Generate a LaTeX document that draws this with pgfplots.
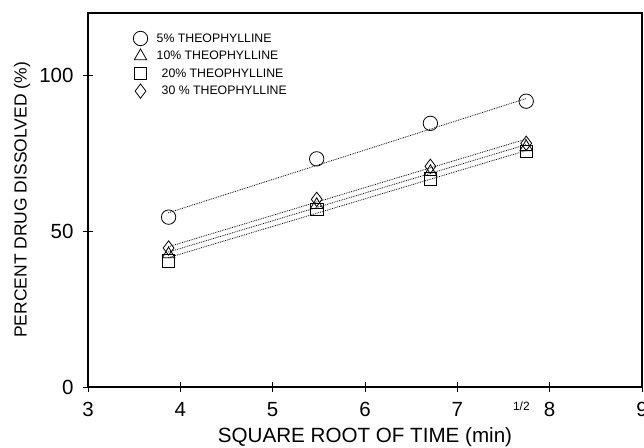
\documentclass[border=0pt]{standalone}
\usepackage{pgfplots}
\pgfplotsset{compat=1.18}
\usepackage{fontspec}
\setmainfont{Liberation Sans}
\begin{document}
\begin{tikzpicture}[x=1pt,y=1pt]
\useasboundingbox (-88pt,-60pt) rectangle (556pt,387pt);
\begin{axis}[
  scale only axis,
  width=554pt, height=374pt,
  xmin=3, xmax=9, ymin=0, ymax=120,
  xtick={3,4,5,6,7,8,9},
  ytick={0,50,100},
  tick pos=left,
  tick align=center,
  major tick length=10pt,
  axis line style={line width=1.1pt},
  every tick/.style={black, line width=0.9pt},
  /pgf/number format/assume math mode=true,
  tick label style={font=\fontsize{20.5}{22}\selectfont},
  xticklabel style={yshift=-7pt},
  yticklabel style={xshift=-6pt},
  xlabel={SQUARE ROOT OF TIME (min)\rlap{\hspace{1pt}\raisebox{32pt}{\fontsize{12}{14}\selectfont 1/2}}},
  ylabel={PERCENT DRUG DISSOLVED (\%)},
  every axis x label/.style={at={(rel axis cs:0.5,0)}, anchor=base, yshift=-55pt,
    font=\fontsize{20.6}{23}\selectfont},
  every axis y label/.style={at={(rel axis cs:0,0.5)}, anchor=center, rotate=90, yshift=66pt,
    font=\fontsize{17.5}{19}\selectfont},
  legend style={at={(0.076,0.957)}, anchor=north west, draw=none, fill=none,
    font=\fontsize{12.3}{14}\selectfont, row sep=3.3pt},
  legend cell align=left,
  clip=false,
]
% regression lines (dotted)
\addplot[densely dotted, line width=0.8pt, forget plot] coordinates {(3.87,55.9) (7.75,92.6)};
\addplot[densely dotted, line width=0.8pt, forget plot] coordinates {(3.87,45.0) (7.75,79.6)};
\addplot[densely dotted, line width=0.8pt, forget plot] coordinates {(3.87,43.3) (7.75,77.8)};
\addplot[densely dotted, line width=0.8pt, forget plot] coordinates {(3.87,41.5) (7.75,75.9)};
% data
\addplot[only marks, mark=o, mark size=7.2pt, mark options={line width=0.8pt, fill=white}]
  coordinates {(3.873,54.5) (5.477,73.2) (6.708,84.6) (7.746,91.7)};
\addlegendentry{\hspace{7pt}5\% THEOPHYLLINE}
\addplot[only marks, mark=triangle, mark size=7.2pt, mark options={line width=0.8pt}]
  coordinates {(3.873,42.6) (5.477,58.4) (6.708,69.0) (7.746,77.0)};
\addlegendentry{\hspace{7pt}10\% THEOPHYLLINE}
\addplot[only marks, mark=square, mark size=6.2pt, mark options={line width=0.8pt}]
  coordinates {(3.873,40.4) (5.477,57.0) (6.708,66.8) (7.746,75.6)};
\addlegendentry{\hspace{12pt}20\% THEOPHYLLINE}
\addplot[only marks, mark=diamond, mark size=7.2pt, mark options={line width=0.8pt}]
  coordinates {(3.873,44.6) (5.477,60.2) (6.708,70.8) (7.746,78.2)};
\addlegendentry{\hspace{12pt}30 \% THEOPHYLLINE}
\end{axis}
\end{tikzpicture}
\end{document}
